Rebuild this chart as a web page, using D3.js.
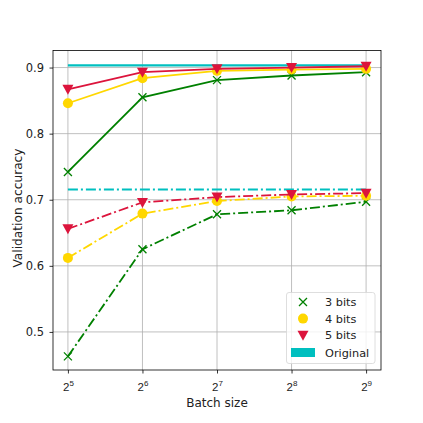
<!DOCTYPE html>
<html><head><meta charset="utf-8">
<script src="https://cdn.jsdelivr.net/npm/d3@7"></script>
<style>body{margin:0;background:#fff}svg{display:block;font-family:"DejaVu Sans",sans-serif}</style>
</head><body>
<svg id="c" width="423" height="423"></svg>
<script>
const exps = [5, 6, 7, 8, 9];
const yTicks = [0.5, 0.6, 0.7, 0.8, 0.9];
const seriesNames = ["3 bits", "4 bits", "5 bits"];
const seriesColors = ["green", "gold", "crimson"];
const seriesMarkers = ["x", "circle", "tri"];
const solid3 = [0.742, 0.855, 0.881, 0.888, 0.893];
const solid4 = [0.846, 0.884, 0.895, 0.897, 0.898];
const solid5 = [0.867, 0.893, 0.898, 0.900, 0.902];
const dash3 = [0.463, 0.625, 0.678, 0.684, 0.697];
const dash4 = [0.612, 0.679, 0.698, 0.705, 0.706];
const dash5 = [0.656, 0.696, 0.704, 0.708, 0.710];
const origSolid = 0.9033;
const origDash = 0.7155;
const origColor = "#00bfbf";

const svg = d3.select("#c");
const L = 53, R = 381, T = 50.5, B = 370;
const x = d3.scaleLinear().domain([4.8, 9.2]).range([L, R]);
const y = d3.scaleLinear().domain([0.4424, 0.9258]).range([B, T]);
const DASH = "10,3,2,3";

// grid
const g = svg.append("g");
g.selectAll(".gx").data(exps).enter().append("line")
  .attr("x1", d => x(d)).attr("x2", d => x(d)).attr("y1", T).attr("y2", B)
  .attr("stroke", "#b0b0b0").attr("stroke-width", 0.8);
g.selectAll(".gy").data(yTicks).enter().append("line")
  .attr("y1", d => y(d)).attr("y2", d => y(d)).attr("x1", L).attr("x2", R)
  .attr("stroke", "#b0b0b0").attr("stroke-width", 0.8);

// axes
const xAxis = d3.axisBottom(x).tickValues(exps).tickSize(3.5).tickFormat("");
const yAxis = d3.axisLeft(y).tickValues(yTicks).tickSize(3.5).tickFormat(d3.format(".1f"));
const xa = svg.append("g").attr("transform", `translate(0,${B})`).call(xAxis);
xa.select(".domain").remove();
xa.selectAll("line").attr("stroke", "#000").attr("stroke-width", 0.8);
xa.selectAll(".tick").append("text").attr("y", 21).attr("fill", "#222")
  .attr("text-anchor", "middle").attr("font-size", 11.5)
  .each(function(d){
    const t = d3.select(this);
    t.append("tspan").text("2");
    t.append("tspan").attr("dy", -5).attr("font-size", 8).text(d);
  });
const ya = svg.append("g").attr("transform", `translate(${L},0)`).call(yAxis);
ya.select(".domain").remove();
ya.selectAll("line").attr("stroke", "#000").attr("stroke-width", 0.8);
ya.selectAll("text").attr("font-size", 11.5).attr("fill", "#222").attr("font-family", "DejaVu Sans").attr("x", -9);

svg.append("rect").attr("x", L).attr("y", T).attr("width", R - L).attr("height", B - T)
  .attr("fill", "none").attr("stroke", "#000").attr("stroke-width", 0.8);

svg.append("text").attr("x", (L + R) / 2).attr("y", 406.5).attr("text-anchor", "middle")
  .attr("font-size", 12).attr("fill", "#222").text("Batch size");
svg.append("text").attr("transform", `translate(22,208) rotate(-90)`)
  .attr("text-anchor", "middle").attr("font-size", 12.2).attr("fill", "#222").text("Validation accuracy");

// original lines
svg.append("line").attr("x1", x(5)).attr("x2", x(9)).attr("y1", y(origSolid)).attr("y2", y(origSolid))
  .attr("stroke", origColor).attr("stroke-width", 2.2);
svg.append("line").attr("x1", x(5)).attr("x2", x(9)).attr("y1", y(origDash)).attr("y2", y(origDash))
  .attr("stroke", origColor).attr("stroke-width", 1.8).attr("stroke-dasharray", DASH);

const line = d3.line().x((d, i) => x(exps[i])).y(d => y(d));
function marker(sel, type, color) {
  if (type === "x") {
    sel.append("path").attr("d", "M-4,-4L4,4M-4,4L4,-4").attr("stroke", color).attr("stroke-width", 1.3).attr("fill", "none");
  } else if (type === "circle") {
    sel.append("circle").attr("r", 5).attr("fill", color);
  } else {
    sel.append("path").attr("d", "M-5.5,-4.5L5.5,-4.5L0,5.5Z").attr("fill", color);
  }
}
const solids = [solid3, solid4, solid5];
const dashes = [dash3, dash4, dash5];
[0, 1, 2].forEach(k => {
  [[dashes[k], DASH], [solids[k], null]].forEach(([data, dash]) => {
    const p = svg.append("path").attr("d", line(data)).attr("fill", "none")
      .attr("stroke", seriesColors[k]).attr("stroke-width", 1.8);
    if (dash) p.attr("stroke-dasharray", dash);
    svg.selectAll(null).data(data).enter().append("g")
      .attr("transform", (d, i) => `translate(${x(exps[i])},${y(d)})`)
      .each(function(){ marker(d3.select(this), seriesMarkers[k], seriesColors[k]); });
  });
});

// legend
const lg = svg.append("g");
lg.append("rect").attr("x", 286.5).attr("y", 292.5).attr("width", 88.5).attr("height", 71)
  .attr("rx", 2.5).attr("fill", "#fff").attr("fill-opacity", 0.8).attr("stroke", "#d6d6d6").attr("stroke-width", 0.8);
seriesNames.forEach((n, k) => {
  const yy = 302 + k * 16.6;
  const m = lg.append("g").attr("transform", `translate(303,${yy})`);
  marker(m, seriesMarkers[k], seriesColors[k]);
  lg.append("text").attr("x", 325).attr("y", yy + 4).attr("font-size", 11.3).attr("fill", "#222").text(n);
});
lg.append("rect").attr("x", 291).attr("y", 348).attr("width", 24).attr("height", 9).attr("fill", origColor);
lg.append("text").attr("x", 325).attr("y", 356.5).attr("font-size", 11.3).attr("fill", "#222").text("Original");
</script>
</body></html>
